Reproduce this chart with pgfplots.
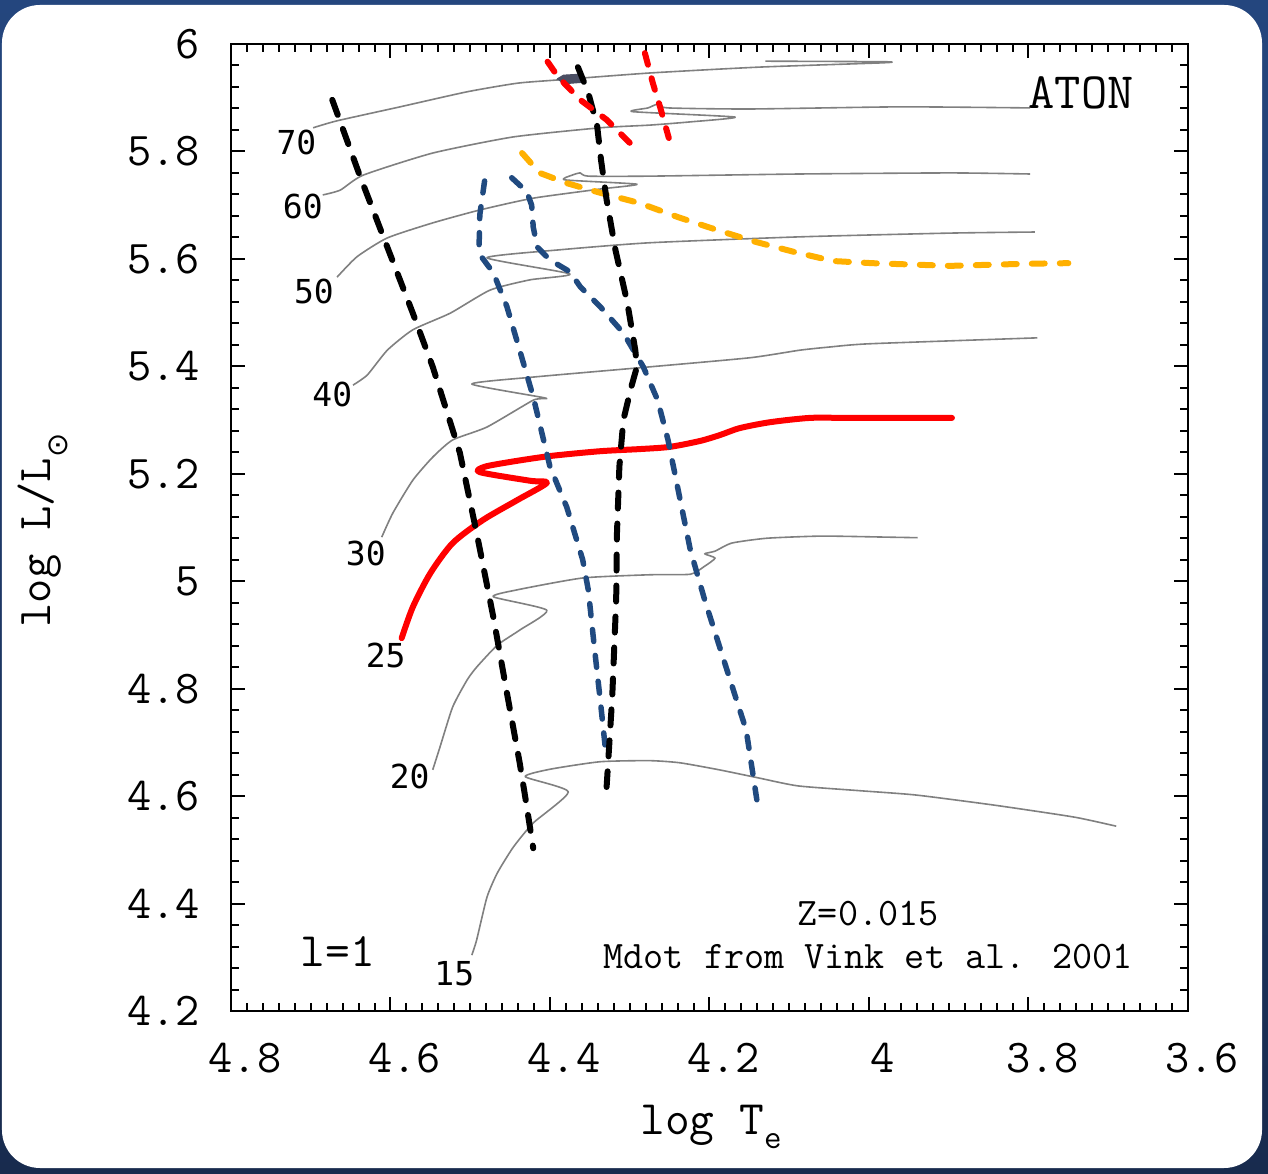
\documentclass[border=0pt]{standalone}
\usepackage{fontspec}
\newfontfamily\dvsm{DejaVu Sans Mono}
\newfontfamily\dvs{DejaVu Sans}
\usepackage{pgfplots}
\pgfplotsset{compat=1.18}
\definecolor{trk}{RGB}{128,128,128}
\definecolor{bdash}{RGB}{32,74,128}
\definecolor{odash}{RGB}{255,176,0}
\definecolor{bgtop}{RGB}{36,70,126}
\definecolor{bgbot}{RGB}{24,43,78}
\definecolor{blob}{RGB}{74,78,99}
\begin{document}
\begin{tikzpicture}[x=1pt,y=1pt]
\useasboundingbox (-231,-163) rectangle (1037,1011);
\shade[top color=bgtop,bottom color=bgbot] (-231,-163) rectangle (1037,1011);
\fill[white,rounded corners=38pt] (-229,-157) rectangle (1031,1006);
\begin{axis}[
  at={(0,0)}, anchor=south west, scale only axis,
  width=957pt, height=967pt,
  x dir=reverse, xmin=3.6, xmax=4.8, ymin=4.2, ymax=6,
  xtick={3.6,3.8,4,4.2,4.4,4.6,4.8},
  xticklabels={3.6,3.8,4,4.2,4.4,4.6,4.8},
  ytick={4.2,4.4,4.6,4.8,5,5.2,5.4,5.6,5.8,6},
  yticklabels={4.2,4.4,4.6,4.8,5,5.2,5.4,5.6,5.8,6},
  minor x tick num=9, minor y tick num=4,
  tick align=inside, tick pos=both,
  major tick length=14pt, minor tick length=8pt,
  tick style={black, line width=2pt},
  axis line style={line width=2.5pt, black},
  xticklabel style={font=\ttfamily\fontsize{47}{47}\selectfont, anchor=north, inner sep=0pt, yshift=-32pt, xshift=14pt},
  yticklabel style={font=\ttfamily\fontsize{47}{47}\selectfont, anchor=east, inner sep=0pt, xshift=-31pt},
  xlabel={log T\raisebox{-14pt}{\fontsize{34}{34}\selectfont e}},
  ylabel={log L/L\raisebox{-17pt}{\fontsize{29}{29}\selectfont\dvs ⊙}},
  xlabel style={font=\ttfamily\fontsize{48}{48}\selectfont, at={(axis description cs:0.5016,-0.128)}, anchor=base},
  ylabel style={font=\ttfamily\fontsize{47}{47}\selectfont, at={(axis description cs:-0.189,0.497)}, anchor=base},
  clip=false,
]
% evolutionary tracks (gray)
\addplot[trk, line width=1.6pt, line join=round, smooth, tension=0.35] coordinates {(4.697,5.844) (4.667,5.857) (4.588,5.883) (4.504,5.911) (4.441,5.927) (4.391,5.933) (4.275,5.946) (4.137,5.957) (3.982,5.965) (3.982,5.967) (4.130,5.968)};
\addplot[blob, fill=blob, line width=1pt] coordinates {(4.391,5.935) (4.383,5.942) (4.360,5.944) (4.356,5.929) (4.382,5.926) (4.391,5.935)};
\addplot[trk, line width=1.6pt, line join=round, smooth, tension=0.35] coordinates {(4.685,5.719) (4.663,5.728) (4.634,5.756) (4.547,5.797) (4.446,5.827) (4.337,5.844) (4.275,5.849) (4.224,5.855) (4.168,5.864) (4.296,5.874) (4.277,5.881) (4.265,5.888) (4.252,5.881) (4.149,5.879) (3.961,5.883) (3.798,5.881)};
\addplot[trk, line width=1.6pt, line join=round, smooth, tension=0.35] coordinates {(4.667,5.566) (4.642,5.604) (4.604,5.639) (4.547,5.667) (4.488,5.691) (4.421,5.713) (4.337,5.730) (4.291,5.739) (4.381,5.747) (4.372,5.756) (4.362,5.760) (4.352,5.754) (4.275,5.754) (4.087,5.758) (3.898,5.760) (3.798,5.758)};
\addplot[trk, line width=1.6pt, line join=round, smooth, tension=0.35] coordinates {(4.647,5.365) (4.629,5.384) (4.604,5.430) (4.572,5.468) (4.525,5.499) (4.475,5.542) (4.425,5.561) (4.375,5.572) (4.479,5.602) (4.387,5.617) (4.275,5.630) (4.087,5.641) (3.898,5.648) (3.792,5.650)};
\addplot[trk, line width=1.6pt, line join=round, smooth, tension=0.35] coordinates {(4.611,5.082) (4.597,5.127) (4.572,5.188) (4.547,5.231) (4.522,5.263) (4.479,5.287) (4.421,5.337) (4.406,5.341) (4.498,5.367) (4.421,5.380) (4.275,5.399) (4.149,5.416) (4.087,5.430) (4.049,5.436) (3.999,5.442) (3.789,5.453)};
\addplot[trk, line width=1.6pt, line join=round, smooth, tension=0.35] coordinates {(4.547,4.649) (4.538,4.691) (4.522,4.766) (4.504,4.816) (4.492,4.840) (4.466,4.881) (4.438,4.909) (4.404,4.946) (4.471,4.971) (4.441,4.984) (4.359,5.006) (4.275,5.012) (4.224,5.013) (4.206,5.028) (4.193,5.043) (4.206,5.051) (4.193,5.056) (4.172,5.071) (4.128,5.080) (4.059,5.084) (3.976,5.082) (3.939,5.081)};
\addplot[trk, line width=1.6pt, line join=round, smooth, tension=0.35] coordinates {(4.498,4.304) (4.492,4.332) (4.479,4.412) (4.466,4.457) (4.446,4.505) (4.421,4.550) (4.377,4.608) (4.431,4.636) (4.400,4.650) (4.337,4.664) (4.275,4.666) (4.237,4.662) (4.188,4.649) (4.139,4.634) (4.089,4.619) (4.011,4.610) (3.941,4.602) (3.842,4.583) (3.743,4.561) (3.690,4.544)};
% 25 Msun track (red)
\addplot[red, line width=6pt, line cap=round, line join=round, smooth, tension=0.45] coordinates {(4.586,4.894) (4.572,4.952) (4.550,5.015) (4.522,5.071) (4.484,5.114) (4.441,5.151) (4.404,5.183) (4.425,5.187) (4.488,5.203) (4.482,5.213) (4.450,5.222) (4.400,5.233) (4.337,5.242) (4.287,5.246) (4.250,5.250) (4.212,5.261) (4.187,5.272) (4.162,5.285) (4.124,5.296) (4.074,5.304) (4.024,5.304) (3.896,5.304)};
% orange dashed
\addplot[odash, line width=6pt, line cap=round, dash pattern=on 13pt off 15pt] coordinates {(4.435,5.797) (4.413,5.760) (4.379,5.741) (4.337,5.723) (4.288,5.704) (4.240,5.678) (4.191,5.654) (4.143,5.632) (4.094,5.613) (4.045,5.596) (3.996,5.592) (3.898,5.587) (3.801,5.591) (3.750,5.592)};
% blue dashed
\addplot[bdash, line width=5.5pt, line cap=round, dash pattern=on 12pt off 14pt] coordinates {(4.482,5.745) (4.488,5.682) (4.489,5.617) (4.485,5.602) (4.471,5.574) (4.454,5.511) (4.438,5.430) (4.421,5.343) (4.400,5.213) (4.379,5.138) (4.359,5.040) (4.352,4.984) (4.344,4.872) (4.337,4.779) (4.331,4.695)};
\addplot[bdash, line width=5.5pt, line cap=round, dash pattern=on 12pt off 14pt] coordinates {(4.448,5.751) (4.429,5.725) (4.423,5.700) (4.421,5.659) (4.416,5.622) (4.400,5.598) (4.375,5.576) (4.362,5.548) (4.337,5.511) (4.308,5.462) (4.283,5.399) (4.265,5.337) (4.252,5.263) (4.240,5.175) (4.224,5.058) (4.206,4.965) (4.167,4.783) (4.154,4.723) (4.140,4.587)};
% black dashed
\addplot[black, line width=6pt, line cap=round, dash pattern=on 16pt off 15pt] coordinates {(4.673,5.896) (4.638,5.753) (4.604,5.622) (4.572,5.499) (4.547,5.399) (4.513,5.239) (4.492,5.090) (4.471,4.933) (4.454,4.792) (4.438,4.662) (4.431,4.598) (4.421,4.503)};
\addplot[black, line width=6pt, line cap=round, dash pattern=on 16pt off 15pt] coordinates {(4.365,5.957) (4.352,5.909) (4.341,5.849) (4.336,5.784) (4.329,5.710) (4.318,5.617) (4.303,5.518) (4.293,5.430) (4.291,5.399) (4.298,5.362) (4.308,5.300) (4.313,5.213) (4.316,5.090) (4.317,4.965) (4.322,4.783) (4.329,4.617)};
% red dashed
\addplot[red, line width=6pt, line cap=round, dash pattern=on 12pt off 14pt] coordinates {(4.403,5.967) (4.390,5.939) (4.362,5.896) (4.329,5.859) (4.300,5.816)};
\addplot[red, line width=6pt, line cap=round, dash pattern=on 12pt off 14pt] coordinates {(4.281,5.983) (4.271,5.927) (4.262,5.883) (4.251,5.825)};
% labels
\node[font=\dvsm\fontsize{33}{33}\selectfont] at (axis cs:4.718,5.816) {70};
\node[font=\dvsm\fontsize{33}{33}\selectfont] at (axis cs:4.710,5.697) {60};
\node[font=\dvsm\fontsize{33}{33}\selectfont] at (axis cs:4.696,5.540) {50};
\node[font=\dvsm\fontsize{33}{33}\selectfont] at (axis cs:4.673,5.347) {40};
\node[font=\dvsm\fontsize{33}{33}\selectfont] at (axis cs:4.631,5.051) {30};
\node[font=\dvsm\fontsize{33}{33}\selectfont] at (axis cs:4.606,4.861) {25};
\node[font=\dvsm\fontsize{33}{33}\selectfont] at (axis cs:4.576,4.637) {20};
\node[font=\dvsm\fontsize{33}{33}\selectfont] at (axis cs:4.520,4.269) {15};
\node[font=\ttfamily\fontsize{51}{51}\selectfont] at (axis cs:3.734,5.909) {ATON};
\node[font=\ttfamily\fontsize{48}{48}\selectfont] at (axis cs:4.666,4.310) {l=1};
\node[font=\ttfamily\fontsize{39}{39}\selectfont, inner sep=0pt] at (axis cs:4.001,4.381) {Z=0.015};
\node[font=\ttfamily\fontsize{39}{39}\selectfont, inner sep=0pt] at (axis cs:4.001,4.302) {Mdot from Vink et al. 2001};
\end{axis}
\end{tikzpicture}
\end{document}
